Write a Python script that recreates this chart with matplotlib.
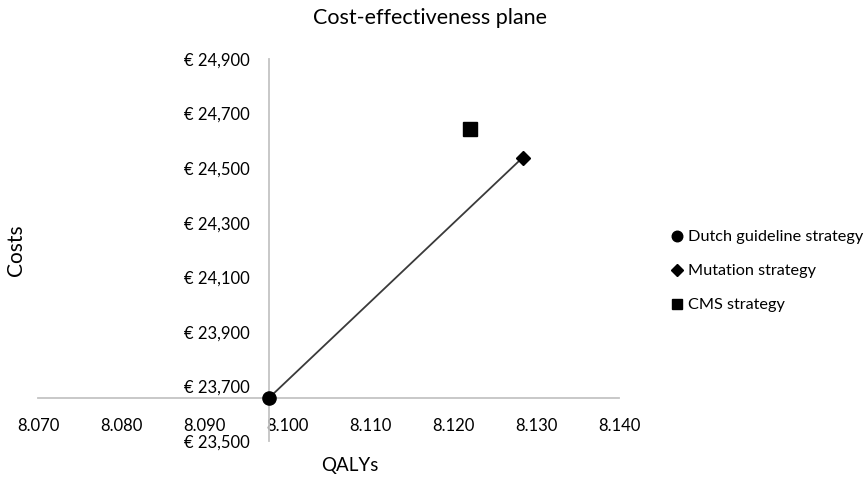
import matplotlib
matplotlib.use("Agg")
import matplotlib.pyplot as plt
from matplotlib.ticker import FuncFormatter

plt.rcParams['font.family'] = ['Lato', 'DejaVu Sans']

strategies = ["Dutch guideline strategy", "Mutation strategy", "CMS strategy"]
qalys = [8.0978, 8.1284, 8.1220]
costs = [23657, 24539, 24644]
markers = ['o', 'D', 's']
sizes = [9.5, 7.5, 9.5]

x_ticks = [8.070, 8.080, 8.090, 8.100, 8.110, 8.120, 8.130, 8.140]
y_ticks = [23500, 23700, 23900, 24100, 24300, 24500, 24700, 24900]

fig = plt.figure(figsize=(8.65, 4.78), dpi=100)
ax = fig.add_axes([38 / 865, 1 - 441 / 478, (619 - 38) / 865, (441 - 59) / 478])
ax.patch.set_visible(False)

# efficiency frontier between Dutch guideline and mutation strategy
ax.plot(qalys[:2], costs[:2], color='#3a3a3a', lw=1.3, zorder=2)

handles = []
for name, x, y, m, s in zip(strategies, qalys, costs, markers, sizes):
    h, = ax.plot([x], [y], linestyle='none', marker=m, markersize=s,
                 color='black', label=name, zorder=3)
    handles.append(h)

ax.set_xlim(8.070, 8.140)
ax.set_ylim(23500, 24900)
ax.set_xticks(x_ticks)
ax.set_yticks(y_ticks)
ax.xaxis.set_major_formatter(FuncFormatter(lambda v, p: f"{v:.3f}"))
ax.yaxis.set_major_formatter(FuncFormatter(lambda v, p: f"€ {v:,.0f}"))

# axes cross at the Dutch guideline point, Excel style
ax.spines['left'].set_position(('data', qalys[0]))
ax.spines['bottom'].set_position(('data', costs[0]))
for side in ['right', 'top']:
    ax.spines[side].set_visible(False)
for side in ['left', 'bottom']:
    ax.spines[side].set_color('#c4c4c4')
    ax.spines[side].set_linewidth(1.3)

ax.tick_params(axis='x', length=0, pad=14, labelsize=12)
ax.tick_params(axis='y', length=0, pad=14, labelsize=12)

fig.text(430 / 865, 1 - 18 / 478, "Cost-effectiveness plane", ha='center', va='center', fontsize=15.5)
fig.text(16 / 865, 1 - 250 / 478, "Costs", ha='center', va='center', rotation=90, fontsize=15)
fig.text(350 / 865, 1 - 465 / 478, "QALYs", ha='center', va='center', fontsize=13.5)

fig.legend(handles=handles, loc='upper left', bbox_to_anchor=(664 / 865, 1 - 222 / 478),
           frameon=False, fontsize=11.7, handlelength=0.6, handletextpad=0.4,
           labelspacing=1.2, borderpad=0, markerscale=0.8)

fig.savefig("out.png", dpi=100)
plt.close(fig)
